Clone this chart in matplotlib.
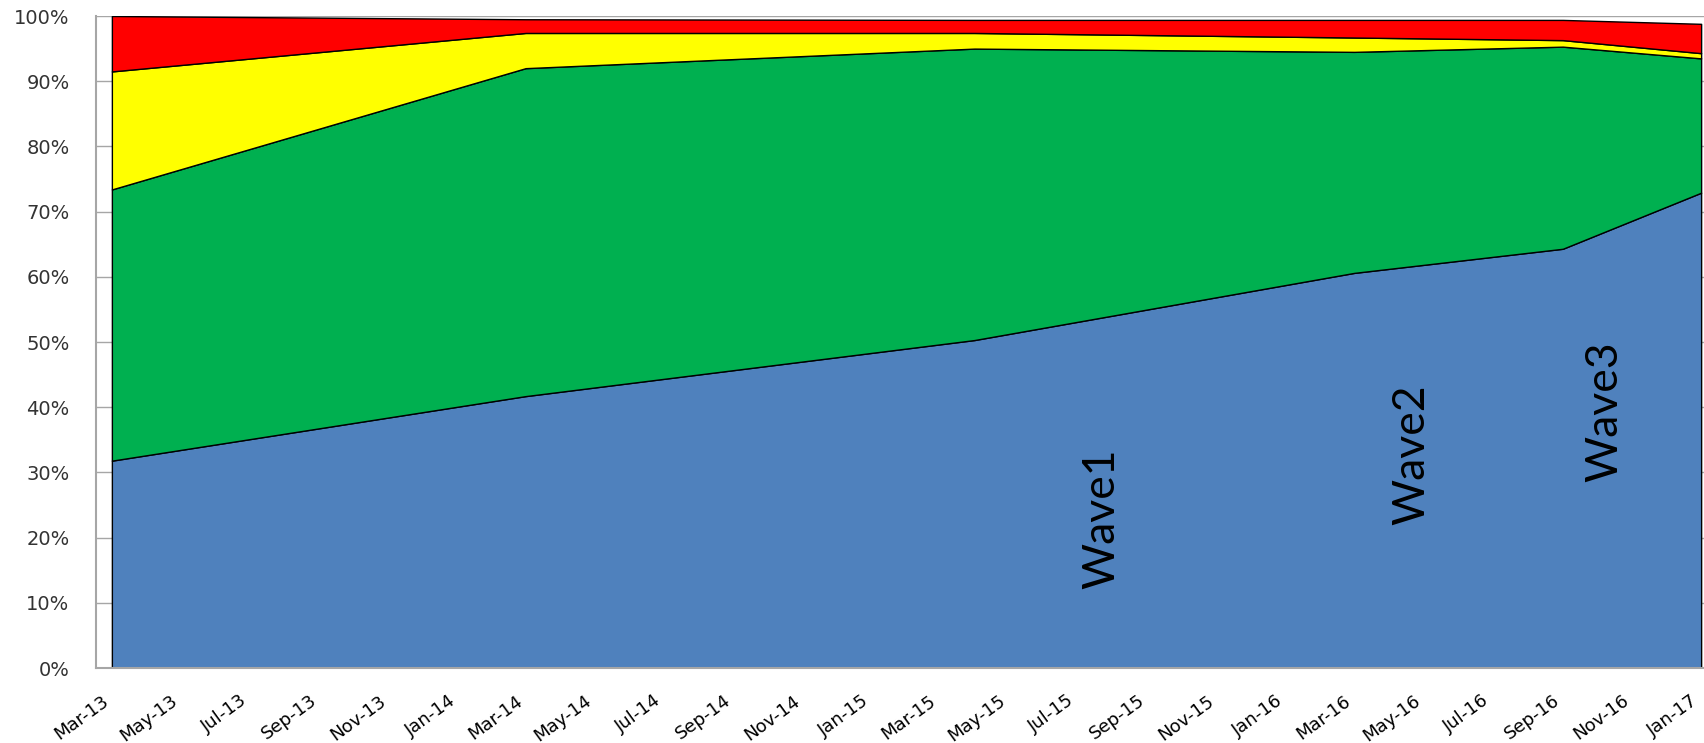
import matplotlib
matplotlib.use("Agg")
import matplotlib.pyplot as plt
import matplotlib.dates as mdates
import numpy as np
import datetime as dt

plt.rcParams['font.family'] = ['Lato', 'DejaVu Sans']

# survey dates and shares (%) per band, bottom to top
dates = [dt.date(2013, 3, 1), dt.date(2014, 3, 1), dt.date(2015, 4, 1),
         dt.date(2016, 3, 1), dt.date(2016, 9, 1), dt.date(2017, 1, 1)]
blue = [31.8, 41.7, 50.3, 60.6, 64.3, 72.9]
green = [41.6, 50.3, 44.7, 33.9, 31.0, 20.6]
yellow = [18.1, 5.4, 2.4, 2.2, 1.0, 0.8]
red = [8.5, 2.1, 2.0, 2.7, 3.1, 4.5]

wave_labels = ["Wave1", "Wave2", "Wave3"]
wave_x = [dt.date(2015, 7, 22), dt.date(2016, 4, 21), dt.date(2016, 10, 8)]
wave_y = [22.9, 32.7, 39.3]

colors = ['#4F81BD', '#00B050', '#FFFF00', '#FF0000']

fig = plt.figure(figsize=(17.04, 7.43), dpi=100)
ax = fig.add_axes([96 / 1704, 1 - 668 / 743, (1717 - 96) / 1704, (668 - 16) / 743])

x = mdates.date2num(dates)
ax.stackplot(x, blue, green, yellow, red, colors=colors,
             edgecolor='black', linewidth=1.0, zorder=2)

ax.set_ylim(0, 100)
ax.set_xlim(mdates.date2num(dt.date(2013, 2, 15)), mdates.date2num(dt.date(2017, 1, 15)))

ax.set_yticks(np.arange(0, 101, 10))
ax.set_yticklabels([f"{v}%" for v in range(0, 101, 10)], family='DejaVu Sans')
ax.yaxis.grid(True, color='#A6A6A6', linewidth=1.0, zorder=0)
ax.set_axisbelow(True)

# tick every second month, like the source sheet
ax.xaxis.set_major_locator(mdates.MonthLocator(bymonth=[1, 3, 5, 7, 9, 11]))
ax.xaxis.set_major_formatter(mdates.DateFormatter('%b-%y'))
for lab in ax.get_xticklabels():
    lab.set_rotation(36)
    lab.set_ha('right')
    lab.set_va('top')
    lab.set_family('DejaVu Sans')

ax.tick_params(axis='y', length=0, pad=19, labelsize=14, labelcolor='#333333')
ax.tick_params(axis='x', length=0, pad=17, labelsize=13, labelcolor='#000000')

for s in ['top', 'right']:
    ax.spines[s].set_visible(False)
for s in ['left', 'bottom']:
    ax.spines[s].set_color('#A6A6A6')
    ax.spines[s].set_linewidth(1.5)

for lbl, wx, wy in zip(wave_labels, wave_x, wave_y):
    ax.text(mdates.date2num(wx), wy, lbl, rotation=90, ha='center', va='center',
            fontsize=32, color='black', zorder=5)

fig.savefig("out.png", dpi=100)
